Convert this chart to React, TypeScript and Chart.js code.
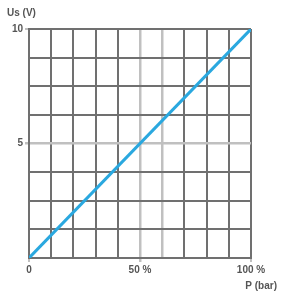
import React, { useEffect, useRef } from "react";
import { Chart, registerables } from "chart.js";

Chart.register(...registerables);

const pressurePct: number[] = [0, 100];
const voltage: number[] = [0, 10];
const xLabels: Record<number, string> = { 0: "0", 50: "50 %", 100: "100 %" };
const yLabels: Record<number, string> = { 5: "5", 10: "10" };
const xLightLines: number[] = [50, 60];
const yLightLines: number[] = [5];
const yTitle = "Us (V)";
const xTitle = "P (bar)";

const DARK = "#707070";
const LIGHT = "#c0c0c0";
const TEXT = "#555555";
const FONT = "'Liberation Sans', Arial, sans-serif";

const titlesPlugin = {
  id: "axisTitles",
  afterDraw(chart: any) {
    const { ctx, chartArea } = chart;
    ctx.save();
    ctx.fillStyle = TEXT;
    ctx.font = `bold 10px ${FONT}`;
    ctx.textAlign = "left";
    ctx.textBaseline = "middle";
    ctx.fillText(yTitle, 7, 13);
    ctx.textAlign = "right";
    ctx.fillText(xTitle, chart.width - 4, chartArea.bottom + 28);
    ctx.restore();
  },
};

export default function App() {
  const ref = useRef<HTMLCanvasElement>(null);
  useEffect(() => {
    if (!ref.current) return;
    const chart = new Chart(ref.current, {
      type: "line",
      data: {
        datasets: [
          {
            data: pressurePct.map((x, i) => ({ x, y: voltage[i] })),
            borderColor: "#2aa8df",
            borderWidth: 3,
            pointRadius: 0,
            tension: 0,
          },
        ],
      },
      options: {
        animation: false,
        responsive: true,
        maintainAspectRatio: false,
        layout: { padding: { left: 0, top: 29, right: 30, bottom: 0 } },
        plugins: { legend: { display: false }, tooltip: { enabled: false } },
        scales: {
          x: {
            type: "linear",
            min: 0,
            max: 100,
            afterFit: (s: any) => {
              s.height = 45;
            },
            ticks: {
              stepSize: 10,
              autoSkip: false,
              maxRotation: 0,
              color: TEXT,
              font: { family: FONT, size: 10, weight: "bold" },
              padding: 2,
              callback: (v: any) => xLabels[v as number] ?? "",
            },
            border: { display: true, color: DARK, width: 2 },
            grid: {
              color: (c: any) =>
                xLightLines.includes(c.tick?.value) ? LIGHT : DARK,
              lineWidth: (c: any) =>
                xLightLines.includes(c.tick?.value) ? 2.5 : 2,
              tickLength: 4,
              tickColor: (c: any) =>
                xLabels[c.tick?.value] !== undefined
                  ? LIGHT
                  : "rgba(0,0,0,0)",
            },
          },
          y: {
            type: "linear",
            min: 0,
            max: 10,
            afterFit: (s: any) => {
              s.width = 29;
            },
            ticks: {
              stepSize: 1.25,
              autoSkip: false,
              color: TEXT,
              font: { family: FONT, size: 10, weight: "bold" },
              padding: 2,
              callback: (v: any) => yLabels[v as number] ?? "",
            },
            border: { display: true, color: DARK, width: 2 },
            grid: {
              color: (c: any) =>
                yLightLines.includes(c.tick?.value) ? LIGHT : DARK,
              lineWidth: (c: any) =>
                yLightLines.includes(c.tick?.value) ? 2.5 : 2,
              tickLength: 4,
              tickColor: (c: any) =>
                yLabels[c.tick?.value] !== undefined
                  ? LIGHT
                  : "rgba(0,0,0,0)",
            },
          },
        },
      },
      plugins: [titlesPlugin],
    });
    return () => chart.destroy();
  }, []);
  return (
    <div style={{ position: "fixed", left: 0, top: 0, width: 281, height: 303 }}>
      <canvas ref={ref} />
    </div>
  );
}
